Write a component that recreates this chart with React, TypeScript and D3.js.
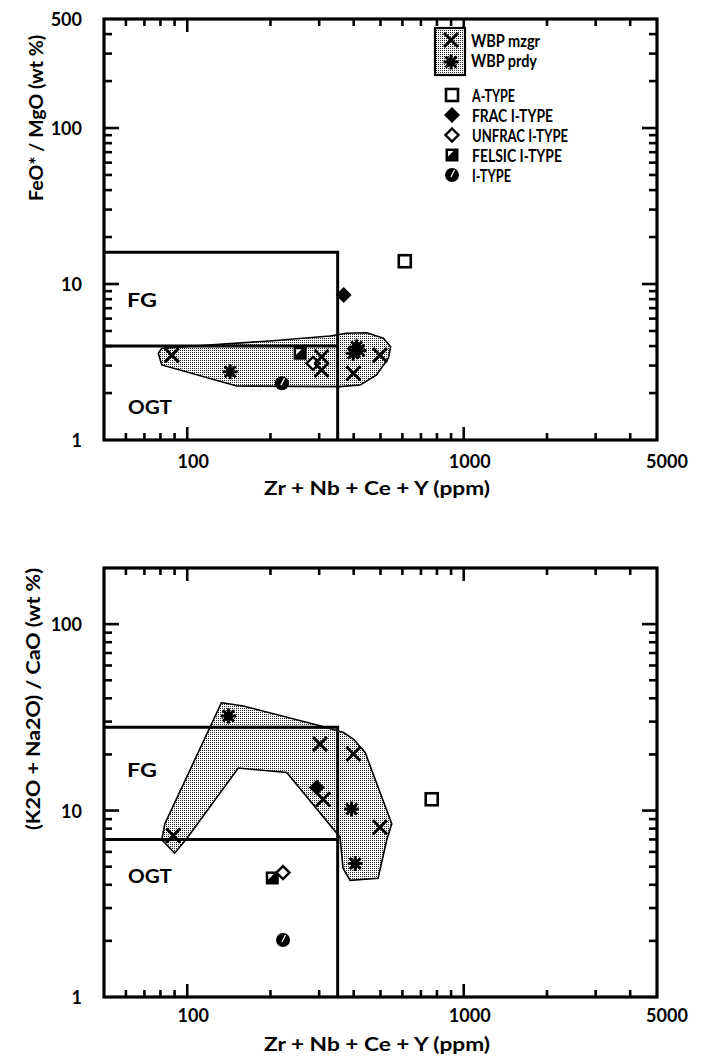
import React from "react"
import * as d3 from "d3"

const W = 707
const H = 1063
const LEFT = 104
const RIGHT = 657
const FONT = "Lato, 'DejaVu Sans', sans-serif"

// shared x axis: Zr + Nb + Ce + Y (ppm)
const X_DOMAIN: [number, number] = [50, 5000]
const X_LABELS = [100, 1000, 5000]
const X_MAJOR_TICKS = [100, 1000]
const X_MINOR_TICKS = [60, 70, 80, 90, 200, 300, 400, 500, 600, 700, 800, 900, 2000, 3000, 4000]

// upper panel: FeO*/MgO
const FE_DOMAIN: [number, number] = [1, 500]
const FE_LABELS = [1, 10, 100, 500]
const FE_MAJOR_TICKS = [10, 100]
const FE_MINOR_TICKS = [2, 3, 4, 5, 6, 7, 8, 9, 20, 30, 40, 50, 60, 70, 80, 90, 200, 300, 400]

// lower panel: (K2O + Na2O)/CaO
const ALK_DOMAIN: [number, number] = [1, 200]
const ALK_LABELS = [1, 10, 100]
const ALK_MAJOR_TICKS = [10, 100]
const ALK_MINOR_TICKS = [2, 3, 4, 5, 6, 7, 8, 9, 20, 30, 40, 50, 60, 70, 80, 90]

// FG / OGT discrimination boxes (Whalen et al.)
const FG_ZR_LIMIT = 350
const FE_FG_BAND: [number, number] = [4, 16]
const ALK_FG_BAND: [number, number] = [7, 28]

// stippled WBP fields
const FE_FIELD: [number, number][] = [
    [78.6, 3.6], [80.9, 3.87], [204, 4.33], [328, 4.64], [377, 4.83], [446, 4.87],
    [512, 4.49], [544, 3.96], [534, 3.34], [484, 2.61], [422, 2.25], [357, 2.2],
    [151, 2.22], [80.9, 3.03],
]
const ALK_FIELD: [number, number][] = [
    [133, 37.9], [159.5, 36.4], [302, 28.5], [367, 26.2], [399, 24.2], [440, 20.5],
    [549, 8.49], [526, 6.91], [490, 4.33], [388, 4.22], [366, 4.9], [357, 7.2],
    [229, 16.0], [153, 16.9], [99.5, 7.06], [90, 5.91], [80.9, 6.97], [83, 8.49],
]

// samples, upper panel
const FE_MZGR: [number, number][] = [[88, 3.5], [306, 3.42], [306, 2.81], [399, 2.68], [498, 3.5]]
const FE_PRDY: [number, number][] = [[143, 2.74], [398, 3.6], [410, 3.95], [418, 3.75]]
const FE_ATYPE: [number, number][] = [[612, 14]]
const FE_FRAC: [number, number][] = [[368, 8.5]]
const FE_UNFRAC: [number, number][] = [[285, 3.1]]
const FE_FELSIC: [number, number][] = [[256, 3.6]]
const FE_ITYPE: [number, number][] = [[220, 2.31]]

// samples, lower panel
const ALK_MZGR: [number, number][] = [[89, 7.35], [302, 22.7], [399, 20.1], [310, 11.5], [498, 8.14]]
const ALK_PRDY: [number, number][] = [[141, 32.2], [393, 10.2], [405, 5.2]]
const ALK_ATYPE: [number, number][] = [[766, 11.5]]
const ALK_FRAC: [number, number][] = [[294, 13.3]]
const ALK_UNFRAC: [number, number][] = [[222, 4.65]]
const ALK_FELSIC: [number, number][] = [[203, 4.35]]
const ALK_ITYPE: [number, number][] = [[222, 2.02]]

const WBP_LABELS = ["WBP mzgr", "WBP prdy"]
const WBP_LABEL_WIDTHS = [69, 66]
const TYPE_KINDS = ["atype", "frac", "unfrac", "felsic", "itype"]
const TYPE_LABELS = ["A-TYPE", "FRAC I-TYPE", "UNFRAC I-TYPE", "FELSIC I-TYPE", "I-TYPE"]
const TYPE_LABEL_WIDTHS = [43, 81, 96, 90, 39]

function Marker({ kind, x, y }: { kind: string; x: number; y: number }) {
    const t = `translate(${x},${y})`
    if (kind === "mzgr")
        return <path transform={t} d="M-7,-7L7,7M-7,7L7,-7" stroke="#000" strokeWidth={3} fill="none" />
    if (kind === "prdy")
        return (
            <g transform={t}>
                <path d="M-7.5,0H7.5M0,-7.5V7.5M-5.5,-5.5L5.5,5.5M-5.5,5.5L5.5,-5.5" stroke="#000" strokeWidth={3} />
                <circle r={4.5} fill="#000" />
            </g>
        )
    if (kind === "atype")
        return <rect transform={t} x={-6} y={-6} width={12} height={12} fill="#fff" stroke="#000" strokeWidth={2.6} />
    if (kind === "frac") return <path transform={t} d="M0,-8L8,0L0,8L-8,0Z" fill="#000" />
    if (kind === "unfrac")
        return <path transform={t} d="M0,-6.5L6.5,0L0,6.5L-6.5,0Z" fill="#fff" stroke="#000" strokeWidth={2.4} />
    if (kind === "felsic")
        return (
            <g transform={t}>
                <rect x={-6.5} y={-6.5} width={13} height={13} fill="#000" />
                <path d="M-4,-4H1.5L-4,1.5Z" fill="#fff" />
            </g>
        )
    return (
        <g transform={t}>
            <circle r={7} fill="#000" />
            <path d="M-1,2L2.5,-5" stroke="#fff" strokeWidth={1.3} />
        </g>
    )
}

type PanelProps = {
    top: number
    bottom: number
    yDomain: [number, number]
    yLabels: number[]
    yMajor: number[]
    yMinor: number[]
    band: [number, number]
    field: [number, number][]
    series: { kind: string; points: [number, number][] }[]
    yTitle: string
    yTitlePos: [number, number]
    yTitleLen: number
    fgY: number
    ogtY: number
    xLabelY: number
    xTitleY: number
    legend?: boolean
}

function Panel(p: PanelProps) {
    const x = d3.scaleLog().domain(X_DOMAIN).range([LEFT, RIGHT])
    const y = d3.scaleLog().domain(p.yDomain).range([p.bottom, p.top])
    const outline = d3
        .line<[number, number]>()
        .x((d) => x(d[0]))
        .y((d) => y(d[1]))
        .curve(d3.curveLinearClosed)

    const xt = [
        ...X_MAJOR_TICKS.map((v) => ({ v, len: 13 })),
        ...X_MINOR_TICKS.map((v) => ({ v, len: 7 })),
    ]
    const yt = [
        ...p.yMajor.map((v) => ({ v, len: 15 })),
        ...p.yMinor.map((v) => ({ v, len: 8 })),
    ]
    const bx = x(FG_ZR_LIMIT)
    const [lo, hi] = p.band

    return (
        <g>
            <path d={outline(p.field) || ""} fill="url(#stipple)" stroke="#000" strokeWidth={1.6} />

            {/* FG / OGT boxes */}
            <g stroke="#000" strokeWidth={3} fill="none">
                <path d={`M${LEFT},${y(hi)}H${bx}V${p.bottom}`} />
                <path d={`M${LEFT},${y(lo)}H${bx}`} />
            </g>

            {/* ticks on all four sides */}
            <g stroke="#000" strokeWidth={2.6}>
                {xt.map((t, i) => (
                    <g key={"x" + i}>
                        <line x1={x(t.v)} x2={x(t.v)} y1={p.bottom} y2={p.bottom - t.len} />
                        <line x1={x(t.v)} x2={x(t.v)} y1={p.top} y2={p.top + t.len} />
                    </g>
                ))}
                {yt.map((t, i) => (
                    <g key={"y" + i}>
                        <line x1={LEFT} x2={LEFT + t.len} y1={y(t.v)} y2={y(t.v)} />
                        <line x1={RIGHT} x2={RIGHT - t.len} y1={y(t.v)} y2={y(t.v)} />
                    </g>
                ))}
            </g>
            <rect x={LEFT} y={p.top} width={RIGHT - LEFT} height={p.bottom - p.top} fill="none" stroke="#000" strokeWidth={3.2} />

            {p.series.map((s) =>
                s.points.map((d, i) => <Marker key={s.kind + i} kind={s.kind} x={x(d[0])} y={y(d[1])} />),
            )}

            {/* labels */}
            <g fontFamily={FONT} fontWeight={700} fontSize={18} fill="#000">
                {p.yLabels.map((v) => (
                    <text key={"yl" + v} x={82} y={y(v)} textAnchor="end" dominantBaseline="central">
                        {v}
                    </text>
                ))}
                {X_LABELS.map((v) => (
                    <text key={"xl" + v} x={x(v) + (v === 5000 ? 10 : 6)} y={p.xLabelY} textAnchor="middle" dominantBaseline="central">
                        {v}
                    </text>
                ))}
                <text x={377} y={p.xTitleY} textAnchor="middle" dominantBaseline="central" textLength={226} lengthAdjust="spacingAndGlyphs">
                    Zr + Nb + Ce + Y  (ppm)
                </text>
                <text
                    transform={`translate(${p.yTitlePos[0]},${p.yTitlePos[1]}) rotate(-90)`}
                    textAnchor="middle"
                    dominantBaseline="central"
                    textLength={p.yTitleLen}
                    lengthAdjust="spacingAndGlyphs"
                >
                    {p.yTitle}
                </text>
                <text x={127} y={p.fgY} dominantBaseline="central" textLength={30} lengthAdjust="spacingAndGlyphs">
                    FG
                </text>
                <text x={128} y={p.ogtY} dominantBaseline="central" textLength={44} lengthAdjust="spacingAndGlyphs">
                    OGT
                </text>
            </g>

            {p.legend && (
                <g>
                    <rect x={435} y={28} width={30} height={47} fill="url(#stipple)" stroke="#000" strokeWidth={2.2} />
                    <Marker kind="mzgr" x={451} y={40} />
                    <Marker kind="prdy" x={451} y={62} />
                    <g fontFamily={FONT} fontWeight={700} fontSize={16.5} fill="#000">
                        {WBP_LABELS.map((l, i) => (
                            <text key={l} x={471} y={41 + i * 20} dominantBaseline="central" textLength={WBP_LABEL_WIDTHS[i]} lengthAdjust="spacingAndGlyphs">
                                {l}
                            </text>
                        ))}
                        {TYPE_LABELS.map((l, i) => (
                            <g key={l}>
                                <Marker kind={TYPE_KINDS[i]} x={452} y={95 + i * 20} />
                                <text x={472} y={96 + i * 20} dominantBaseline="central" textLength={TYPE_LABEL_WIDTHS[i]} lengthAdjust="spacingAndGlyphs">
                                    {l}
                                </text>
                            </g>
                        ))}
                    </g>
                </g>
            )}
        </g>
    )
}

export default function App() {
    return (
        <div style={{ position: "absolute", left: 0, top: 0 }}>
            <svg width={W} height={H} style={{ display: "block", background: "#fff" }}>
                <defs>
                    <pattern id="stipple" width={2} height={2} patternUnits="userSpaceOnUse">
                        <rect width={2} height={2} fill="#fff" />
                        <rect width={1} height={1} fill="#222" />
                    </pattern>
                </defs>
                <Panel
                    top={19}
                    bottom={440}
                    yDomain={FE_DOMAIN}
                    yLabels={FE_LABELS}
                    yMajor={FE_MAJOR_TICKS}
                    yMinor={FE_MINOR_TICKS}
                    band={FE_FG_BAND}
                    field={FE_FIELD}
                    series={[
                        { kind: "felsic", points: FE_FELSIC },
                        { kind: "unfrac", points: FE_UNFRAC },
                        { kind: "itype", points: FE_ITYPE },
                        { kind: "mzgr", points: FE_MZGR },
                        { kind: "prdy", points: FE_PRDY },
                        { kind: "atype", points: FE_ATYPE },
                        { kind: "frac", points: FE_FRAC },
                    ]}
                    yTitle="FeO* / MgO  (wt %)"
                    yTitlePos={[36, 118]}
                    yTitleLen={166}
                    fgY={300}
                    ogtY={407}
                    xLabelY={461}
                    xTitleY={488}
                    legend
                />
                <Panel
                    top={568}
                    bottom={997}
                    yDomain={ALK_DOMAIN}
                    yLabels={ALK_LABELS}
                    yMajor={ALK_MAJOR_TICKS}
                    yMinor={ALK_MINOR_TICKS}
                    band={ALK_FG_BAND}
                    field={ALK_FIELD}
                    series={[
                        { kind: "felsic", points: ALK_FELSIC },
                        { kind: "unfrac", points: ALK_UNFRAC },
                        { kind: "itype", points: ALK_ITYPE },
                        { kind: "mzgr", points: ALK_MZGR },
                        { kind: "prdy", points: ALK_PRDY },
                        { kind: "atype", points: ALK_ATYPE },
                        { kind: "frac", points: ALK_FRAC },
                    ]}
                    yTitle="(K2O + Na2O) / CaO  (wt %)"
                    yTitlePos={[33, 699]}
                    yTitleLen={262}
                    fgY={770}
                    ogtY={876}
                    xLabelY={1015}
                    xTitleY={1044}
                />
            </svg>
        </div>
    )
}
